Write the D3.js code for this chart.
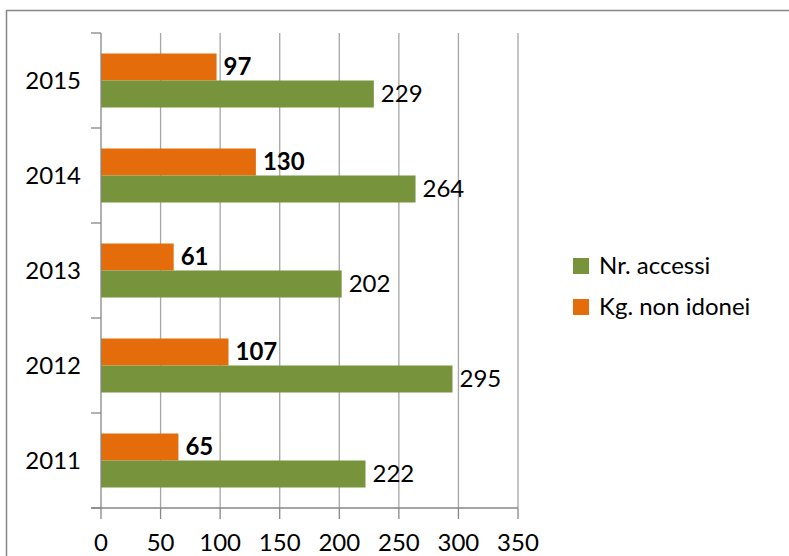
<!DOCTYPE html>
<html><head><meta charset="utf-8">
<script src="https://cdn.jsdelivr.net/npm/d3@7"></script>
<style>body{margin:0;background:#fff}svg{display:block}text{font-family:Lato,"Open Sans",sans-serif}</style>
</head><body>
<script>
const years = ["2011","2012","2013","2014","2015"];
const accessi = [222, 295, 202, 264, 229];
const nonIdonei = [65, 107, 61, 130, 97];
const xTicks = [0,50,100,150,200,250,300,350];
const seriesNames = ["Nr. accessi","Kg. non idonei"];
const colors = {green:"#77933C", orange:"#E46C0A"};

(function(){
const W=789,H=556,FS=24;
const svg=d3.select("body").append("svg").attr("width",W).attr("height",H);
// outer chart border
svg.append("rect").attr("x",6.5).attr("y",10.5).attr("width",W).attr("height",H)
  .attr("fill","none").attr("stroke","#878787").attr("stroke-width",1.5);

const pl=101,pr=518,pt=33,pb=508;
const x=d3.scaleLinear().domain([0,350]).range([pl,pr]);
const y=d3.scaleBand().domain(years.slice().reverse()).range([pt,pb]);
const barH=27;

// gridlines
svg.append("g").selectAll("line").data(xTicks.slice(1)).join("line")
  .attr("x1",d=>x(d)).attr("x2",d=>x(d)).attr("y1",pt).attr("y2",pb)
  .attr("stroke","#a6a6a6").attr("stroke-width",1.3);

// bars
const data=years.map((yr,i)=>({yr,a:accessi[i],k:nonIdonei[i]}));
const g=svg.append("g");
data.forEach(d=>{
  const c=y(d.yr)+y.bandwidth()/2;
  g.append("rect").attr("x",x(0)).attr("y",c-barH).attr("width",x(d.k)-x(0)).attr("height",barH).attr("fill",colors.orange);
  g.append("rect").attr("x",x(0)).attr("y",c).attr("width",x(d.a)-x(0)).attr("height",barH).attr("fill",colors.green);
  g.append("text").attr("x",x(d.k)+7).attr("y",c-barH/2).attr("dy","0.35em")
    .attr("font-size",FS).attr("font-weight","bold").text(d.k);
  g.append("text").attr("x",x(d.a)+7).attr("y",c+barH/2).attr("dy","0.35em")
    .attr("font-size",FS).text(d.a);
});

// y axis
const ya=svg.append("g");
ya.append("line").attr("x1",pl).attr("x2",pl).attr("y1",pt).attr("y2",pb).attr("stroke","#878787").attr("stroke-width",1.3);
const bounds=years.map((_,i)=>pt+i*y.step()).concat([pb]);
ya.selectAll("line.t").data(bounds).join("line").attr("class","t")
  .attr("x1",pl-10).attr("x2",pl).attr("y1",d=>d).attr("y2",d=>d).attr("stroke","#878787").attr("stroke-width",1.3);
ya.selectAll("text").data(years).join("text")
  .attr("x",81).attr("y",d=>y(d)+y.bandwidth()/2).attr("dy","0.35em")
  .attr("text-anchor","end").attr("font-size",FS).text(d=>d);

// x axis
const xa=svg.append("g");
xa.append("line").attr("x1",pl-10).attr("x2",pr).attr("y1",pb).attr("y2",pb).attr("stroke","#878787").attr("stroke-width",1.3);
xa.selectAll("line.t").data(xTicks).join("line").attr("class","t")
  .attr("x1",d=>x(d)).attr("x2",d=>x(d)).attr("y1",pb).attr("y2",pb+11).attr("stroke","#878787").attr("stroke-width",1.3);
xa.selectAll("text").data(xTicks).join("text")
  .attr("x",d=>x(d)).attr("y",543).attr("dy","0.35em").attr("text-anchor","middle")
  .attr("font-size",FS).text(d=>d);

// legend
const leg=svg.append("g");
const legItems=[{n:seriesNames[0],c:colors.green,y:266},{n:seriesNames[1],c:colors.orange,y:307}];
legItems.forEach(it=>{
  leg.append("rect").attr("x",573).attr("y",it.y-8).attr("width",16).attr("height",16).attr("fill",it.c);
  leg.append("text").attr("x",599).attr("y",it.y).attr("dy","0.35em").attr("font-size",FS).text(it.n);
});
})();
</script>
</body></html>
